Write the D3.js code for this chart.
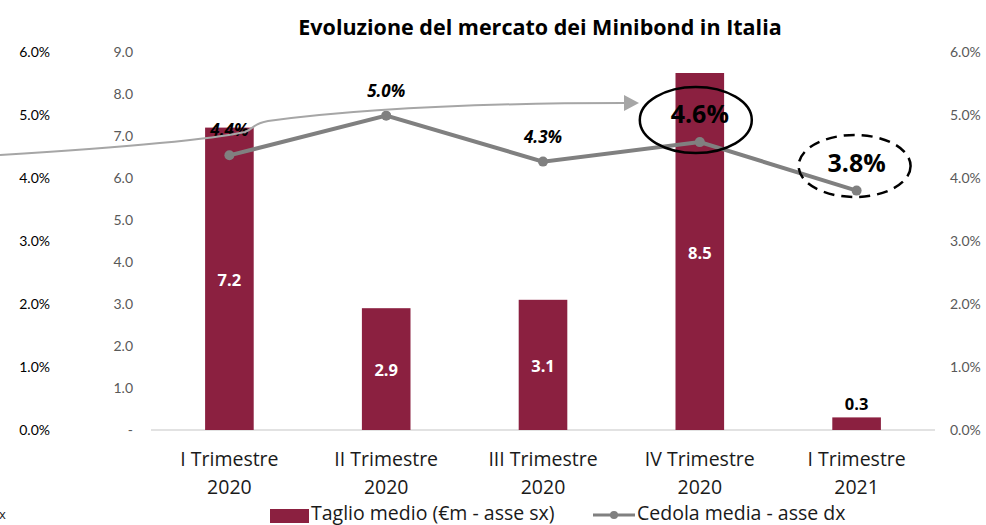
<!DOCTYPE html>
<html><head><meta charset="utf-8">
<script src="https://cdn.jsdelivr.net/npm/d3@7"></script>
<style>body{margin:0;background:#fff;} svg{display:block;font-family:"Open Sans",sans-serif;}</style>
</head><body>
<svg id="c" width="986" height="525"></svg>
<script>
const categories = [["I Trimestre","2020"],["II Trimestre","2020"],["III Trimestre","2020"],["IV Trimestre","2020"],["I Trimestre","2021"]];
const taglioMedio = [7.2, 2.9, 3.1, 8.5, 0.3];
const cedolaMedia = [0.0436, 0.0499, 0.0426, 0.0457, 0.0380];
const leftTicks = [0,1,2,3,4,5,6,7,8,9];
const rightTicks = [0,0.01,0.02,0.03,0.04,0.05,0.06];

const svg = d3.select("#c");
const keys = categories.map((d,i)=>i);
const x = d3.scaleBand().domain(keys).range([151,935]).paddingInner(0.69).paddingOuter(0.345);
const yL = d3.scaleLinear().domain([0,9]).range([430,52]);
const yR = d3.scaleLinear().domain([0,0.06]).range([430,52]);
const pct = d3.format(".1%");
const axFont = "Lato,sans-serif";

// title
svg.append("text").attr("x",540).attr("y",35).attr("text-anchor","middle")
  .attr("font-size",21.5).attr("font-weight","bold").attr("fill","#000")
  .text("Evoluzione del mercato dei Minibond in Italia");

// far-left percent axis (black)
const farL = d3.axisLeft(yR).tickValues(rightTicks).tickFormat(pct).tickSize(0).tickPadding(0);
svg.append("g").attr("transform","translate(50,0)").call(farL)
  .call(g=>g.select(".domain").remove())
  .call(g=>g.selectAll("text").attr("fill","#000").attr("font-size",14).attr("font-family",axFont));

// left axis
const axL = d3.axisLeft(yL).tickValues(leftTicks).tickFormat(d=>d===0?"-":d3.format(".1f")(d)).tickSize(0).tickPadding(0);
svg.append("g").attr("transform","translate(133,0)").call(axL)
  .call(g=>g.select(".domain").remove())
  .call(g=>g.selectAll("text").attr("fill","#595959").attr("font-size",14).attr("font-family",axFont));

// right axis
const axR = d3.axisRight(yR).tickValues(rightTicks).tickFormat(pct).tickSize(0).tickPadding(0);
svg.append("g").attr("transform","translate(950,0)").call(axR)
  .call(g=>g.select(".domain").remove())
  .call(g=>g.selectAll("text").attr("fill","#595959").attr("font-size",14).attr("font-family",axFont));

// baseline
svg.append("line").attr("x1",151).attr("x2",935).attr("y1",yL(0)).attr("y2",yL(0))
  .attr("stroke","#d9d9d9").attr("stroke-width",1.5);

// bars
svg.append("g").selectAll("rect").data(taglioMedio).join("rect")
  .attr("x",(d,i)=>x(i)).attr("width",x.bandwidth())
  .attr("y",d=>yL(d)).attr("height",d=>yL(0)-yL(d)).attr("fill","#8b2040");

// bar labels
svg.append("g").selectAll("text").data(taglioMedio).join("text")
  .attr("x",(d,i)=>x(i)+x.bandwidth()/2)
  .attr("y",d=> d<1 ? yL(d)-7 : (yL(d)+yL(0))/2+7)
  .attr("text-anchor","middle").attr("font-size",16.5).attr("font-weight","bold")
  .attr("fill",d=>d<1?"#000":"#fff").text(d=>d3.format(".1f")(d));

// x labels
const xl = svg.append("g").selectAll("text").data(categories).join("text")
  .attr("text-anchor","middle").attr("font-size",19.5).attr("fill","#1a1a1a");
xl.append("tspan").attr("x",(d,i)=>x(i)+x.bandwidth()/2).attr("y",466).text(d=>d[0]);
xl.append("tspan").attr("x",(d,i)=>x(i)+x.bandwidth()/2).attr("y",494).text(d=>d[1]);

// line
const cx = i=>x(i)+x.bandwidth()/2;
svg.append("path").datum(cedolaMedia)
  .attr("d",d3.line().x((d,i)=>cx(i)).y(d=>yR(d)))
  .attr("fill","none").attr("stroke","#808080").attr("stroke-width",4);
svg.append("g").selectAll("circle").data(cedolaMedia).join("circle")
  .attr("cx",(d,i)=>cx(i)).attr("cy",d=>yR(d)).attr("r",5).attr("fill","#808080");

// line labels (small italic for first three)
const smallIdx = [0,1,2];
svg.append("g").selectAll("text").data(smallIdx).join("text")
  .attr("x",i=>cx(i)).attr("y",i=>yR(cedolaMedia[i])-19)
  .attr("text-anchor","middle").attr("font-size",17).attr("font-weight","bold").attr("font-style","italic")
  .attr("fill","#000").text(i=>pct(cedolaMedia[i]));

// big labels with ellipses
svg.append("ellipse").attr("cx",cx(3)-4).attr("cy",120).attr("rx",56).attr("ry",33)
  .attr("fill","none").attr("stroke","#000").attr("stroke-width",2.5);
svg.append("text").attr("x",cx(3)).attr("y",123).attr("text-anchor","middle")
  .attr("font-size",25).attr("font-weight","bold").attr("fill","#000").text(pct(cedolaMedia[3]));
svg.append("ellipse").attr("cx",cx(4)-2).attr("cy",166).attr("rx",56).attr("ry",31)
  .attr("fill","none").attr("stroke","#000").attr("stroke-width",2.5).attr("stroke-dasharray","11,7");
svg.append("text").attr("x",cx(4)).attr("y",172).attr("text-anchor","middle")
  .attr("font-size",25).attr("font-weight","bold").attr("fill","#000").text(pct(cedolaMedia[4]));

// gray arrow connector
svg.append("path")
  .attr("d","M0,155 C80,150 200,142 245,132 C255,128 252,124 268,121 C380,106 520,103 624,103")
  .attr("fill","none").attr("stroke","#a6a6a6").attr("stroke-width",2);
svg.append("path").attr("d","M624,95 L639,103 L624,111 Z").attr("fill","#a6a6a6");

// legend
svg.append("rect").attr("x",270).attr("y",509).attr("width",39).attr("height",14).attr("fill","#8b2040");
svg.append("text").attr("x",311).attr("y",520).attr("font-size",19.5).attr("fill","#1a1a1a").text("Taglio medio (€m - asse sx)");
svg.append("line").attr("x1",593).attr("x2",635).attr("y1",515).attr("y2",515).attr("stroke","#808080").attr("stroke-width",3);
svg.append("circle").attr("cx",614).attr("cy",515).attr("r",4).attr("fill","#808080");
svg.append("text").attr("x",637).attr("y",520).attr("font-size",19.5).attr("fill","#1a1a1a").text("Cedola media - asse dx");
svg.append("text").attr("x",-1).attr("y",519).attr("font-size",13).attr("fill","#1a1a1a").text("x");
</script>
</body></html>
